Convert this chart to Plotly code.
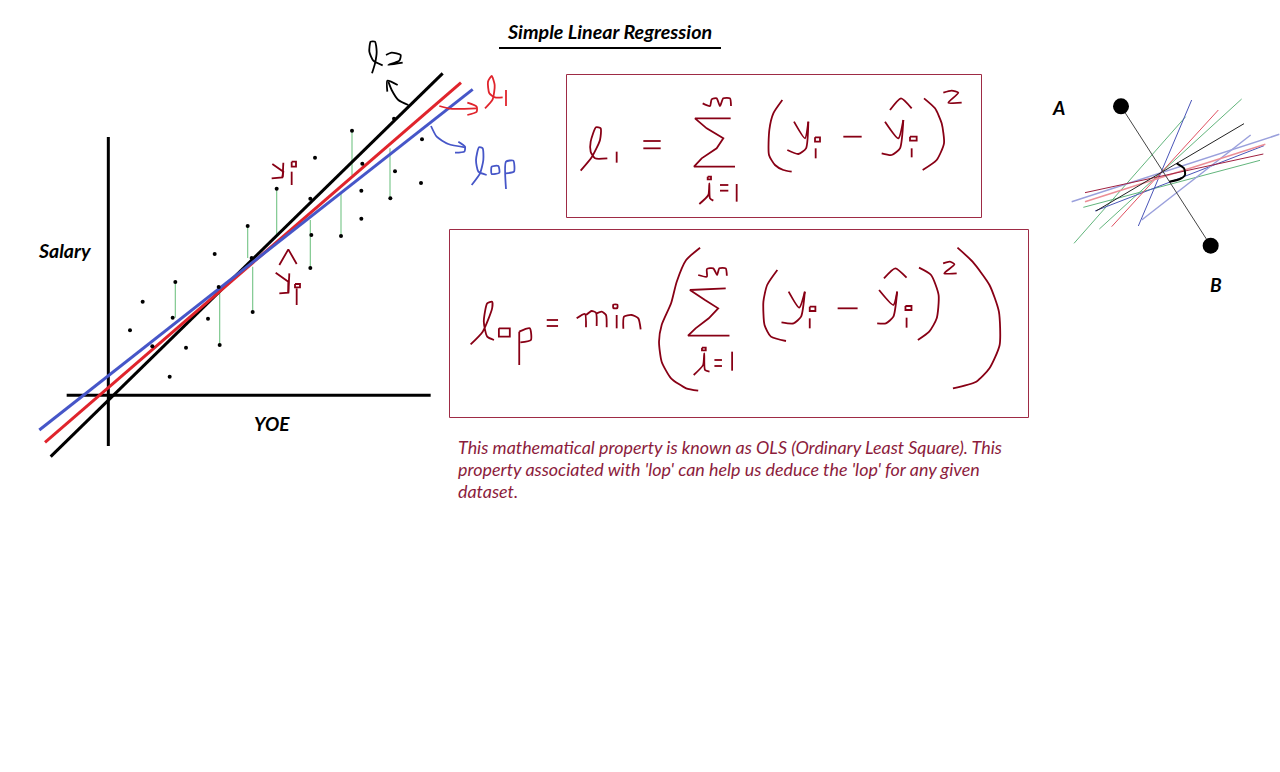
import plotly.graph_objects as go

CROP_LEFT = (30, 40)
CROP_EQ1 = (560, 70)
CROP_EQ2 = (445, 225)
CROP_MIN = (460, 290)
CROP_RIGHT = (1040, 85)
EQ2_X_SCALE = 0.3768

scatter_points = [(300,871),(338,785),(436,726),(428,833),(367,919),(468,923),(419,1010),(534,836),(554,642),
                  (566,741),(569,915),(653,558),(665,654),(668,816),(740,446),(841,476),(855,353),(844,585),
                  (841,684),(933,588),(966,272),(997,371),(994,452),(994,536),(1081,475),(1095,394),(1176,298),
                  (1173,429),(1092,236)]
residuals = [[(436,726),(436,833)],[(569,741),(569,915)],[(653,558),(653,654)],[(668,680),(668,816)],
             [(740,446),(740,590)],[(841,540),(841,684)],[(933,460),(933,588)],[(966,272),(966,405)],
             [(1080,325),(1080,475)]]
axes_lines = [[(235,291),(235,1218)],[(110,1066),(1202,1066)]]
line_l2 = [[(62,1250),(1238,100)]]
line_l1 = [[(45,1207),(1293,128)]]
line_lop = [[(28,1170),(1328,148)]]

label_l2 = [[(1026,100),(1035,70),(1040,35),(1035,5),(1022,5),(1018,35),(1030,62),(1058,76)],
            [(1068,45),(1085,38),(1112,45),(1108,62),(1075,75),(1118,68)],
            [(1135,195),(1105,180),(1085,150),(1075,125)],
            [(1072,155),(1072,122),(1103,135)]]
label_l1 = [[(1365,205),(1388,178),(1394,135),(1385,108),(1374,125),(1378,160),(1395,172),(1418,172)],
            [(1428,150),(1428,198)],
            [(1228,198),(1260,206),(1340,205)],
            [(1312,188),(1340,200),(1340,215),(1312,225)]]
label_lop = [[(1203,258),(1220,290),(1255,312),(1305,322)],
             [(1285,305),(1305,320),(1303,335),(1275,338)],
             [(1325,435),(1350,400),(1360,360),(1358,325),(1347,322),(1338,360),(1345,395),(1370,405)],
             [(1385,380),(1405,378),(1408,398),(1385,402),(1385,380)],
             [(1428,447),(1428,365),(1450,362),(1452,395),(1428,400)]]
label_yi = [[(727,372),(760,395),(757,412),(725,415)],[(760,368),(758,412)],[(785,435),(785,395)],
            [(785,365),(798,365),(798,380),(785,380),(785,365)],
            [(748,675),(775,628),(800,672)],
            [(737,698),(775,725),(775,758),(748,760)],[(778,700),(775,758)],[(800,795),(800,745)],
            [(795,732),(810,732),(810,742),(795,742),(795,732)]]

eq1_curves = [[(62,302),(95,262),(120,210),(122,175),(108,172),(92,215),(92,245),(105,265),(142,265)],
              [(428,100),(450,108),(455,88),(470,85),(480,108),(490,85),(510,85),(513,108)],
              [(418,402),(445,375),(448,340),(450,385),(460,392)],
              [(667,90),(640,130),(628,180),(627,255),(645,285),(670,300),(695,305)],
              [(702,155),(735,205),(745,155)],[(745,155),(738,235),(715,252),(682,240)],
              [(990,120),(1023,85),(1055,115)],
              [(975,155),(1015,205),(1030,150)],[(1030,150),(1020,235),(995,255),(965,250)],
              [(1092,85),(1125,115),(1145,160),(1152,220),(1130,270),(1088,300)],
              [(1150,68),(1175,62),(1195,68),(1165,98),(1205,98)]]
eq1_straight = [[(170,245),(170,278)],[(250,213),(302,213)],[(250,235),(302,235)],
                [(512,145),(405,145),(440,175),(490,205),(470,235),(425,265),(402,290),(525,290)],
                [(443,320),(453,320),(453,328),(443,328),(443,320)],
                [(480,345),(505,345)],[(480,362),(505,362)],[(530,342),(530,395)],
                [(765,202),(780,202),(780,215),(765,215),(765,202)],[(767,235),(767,265)],
                [(850,200),(905,200)],
                [(1050,200),(1070,200),(1070,212),(1050,212),(1050,200)],[(1055,235),(1055,262)]]

eq2_curves = [[(68,358),(100,320),(125,250),(125,230),(112,235),(103,290),(112,335),(130,345)],
              [(197,320),(225,310),(228,345),(200,352)],
              [(677,68),(640,105),(615,170),(600,235),(575,300),(568,350),(575,410),(600,460),(640,490),(672,497)],
              [(672,150),(695,155),(695,132),(712,130),(722,150),(728,130),(745,130),(748,152)],
              [(660,450),(685,420),(688,385),(690,435),(702,440)],
              [(882,135),(855,180),(845,230),(848,300),(865,335),(905,348)],
              [(912,200),(940,248),(955,200)],[(955,200),(945,275),(925,295),(893,292)],
              [(1165,160),(1195,130),(1225,158)],
              [(1152,195),(1190,240),(1200,200)],[(1200,200),(1190,275),(1170,295),(1147,295)],
              [(1258,128),(1290,150),(1310,210),(1305,280),(1285,320),(1255,345)],
              [(1322,115),(1340,110),(1352,118),(1325,145),(1358,145)],
              [(1360,68),(1400,110),(1445,180),(1470,260),(1472,360),(1445,430),(1410,470),(1348,490)]]
eq2_straight = [[(143,310),(172,310),(172,335),(143,335),(143,310)],[(197,420),(197,320)],
                [(270,285),(300,285)],[(270,303),(300,303)],
                [(745,190),(650,195),(690,225),(725,250),(700,280),(665,310),(645,332),(755,332)],
                [(682,368),(692,368),(692,376),(682,376),(682,368)],
                [(715,405),(735,405)],[(715,423),(735,423)],[(762,380),(762,437)],
                [(968,245),(983,245),(983,258),(968,258),(968,245)],[(968,280),(968,310)],
                [(1042,250),(1095,250)],
                [(1222,243),(1238,243),(1238,255),(1222,255),(1222,243)],[(1225,278),(1225,308)]]
word_min = [[(350,85),(375,72),(378,112)],
            [(378,75),(395,63),(408,68),(410,108)],
            [(410,70),(425,65),(438,75),(440,112)],
            [(460,44),(472,44),(472,54),(460,54),(460,44)],
            [(470,75),(470,115)],
            [(490,116),(492,80),(515,75),(535,85),(542,118)]]

box_eq1 = [[(566.5,74.5),(981.5,74.5),(981.5,217.5),(566.5,217.5),(566.5,74.5)]]
box_eq2 = [[(449.5,229.5),(1028.5,229.5),(1028.5,417.5),(449.5,417.5),(449.5,229.5)]]
title_rule = [[(499,48),(721,48)]]

right_green = [[(102,475),(437,95)],[(178,432),(605,42)],[(130,367),(660,226)]]
right_blue = [[(295,423),(455,45)],[(165,378),(672,182)]]
right_pale_blue = [[(305,405),(632,150)],[(95,350),(718,148)]]
right_red = [[(215,425),(535,75)]]
right_pale_red = [[(135,350),(676,178)]]
right_dark_red = [[(135,323),(670,207)]]
right_black = [[(168,378),(612,116)]]
right_ab = [[(243,64),(512,482)]]
right_bracket = [[(410,235),(432,250),(435,270),(420,282),(388,290)]]
right_nodes = [(243,64),(512,482)]

title_text = "Simple Linear Regression"
paragraph_lines = ["This mathematical property is known as OLS (Ordinary Least Square). This",
                   "property associated with 'lop' can help us deduce the 'lop' for any given",
                   "dataset."]

INK = "#880015"
FONT = "Lato"


def to_px(crop, pts, sx=1 / 3):
    return [(crop[0] + x * sx, crop[1] + y / 3) for x, y in pts]


fig = go.Figure()


def strokes(groups, color, width, crop=None, shape="linear", sx=1 / 3):
    xs, ys = [], []
    for stroke in groups:
        pts = to_px(crop, stroke, sx) if crop else stroke
        xs += [p[0] for p in pts] + [None]
        ys += [p[1] for p in pts] + [None]
    fig.add_trace(go.Scatter(x=xs, y=ys, mode="lines",
                             line=dict(color=color, width=width, shape=shape, smoothing=0.6),
                             hoverinfo="skip", showlegend=False))


def dots(points, crop, color, size):
    pts = to_px(crop, points)
    fig.add_trace(go.Scatter(x=[p[0] for p in pts], y=[p[1] for p in pts], mode="markers",
                             marker=dict(color=color, size=size), hoverinfo="skip", showlegend=False))


strokes(residuals, "#7fc98f", 1.2, CROP_LEFT)
strokes(axes_lines, "#000000", 3, CROP_LEFT)
strokes(line_l2, "#000000", 3, CROP_LEFT)
strokes(line_l1, "#e0242c", 3, CROP_LEFT)
strokes(line_lop, "#4656c8", 3, CROP_LEFT)
dots(scatter_points, CROP_LEFT, "#000000", 4)
strokes(label_l2, "#000000", 1.8, CROP_LEFT, "spline")
strokes(label_l1, "#e0242c", 1.8, CROP_LEFT, "spline")
strokes(label_lop, "#4656c8", 1.8, CROP_LEFT, "spline")
strokes(label_yi, INK, 1.8, CROP_LEFT)
strokes(eq1_curves, INK, 1.8, CROP_EQ1, "spline")
strokes(eq1_straight, INK, 1.8, CROP_EQ1)
strokes(eq2_curves, INK, 1.8, CROP_EQ2, "spline", EQ2_X_SCALE)
strokes(eq2_straight, INK, 1.8, CROP_EQ2, "linear", EQ2_X_SCALE)
strokes(word_min, INK, 1.8, CROP_MIN, "spline")
strokes(box_eq1, "#9e2b45", 1)
strokes(box_eq2, "#9e2b45", 1)
strokes(title_rule, "#000000", 2)
strokes(right_green, "#62b57c", 1, CROP_RIGHT)
strokes(right_blue, "#4a55b8", 1, CROP_RIGHT)
strokes(right_pale_blue, "#9aa0dc", 1.5, CROP_RIGHT)
strokes(right_red, "#e05060", 1, CROP_RIGHT)
strokes(right_pale_red, "#ec8e96", 1.5, CROP_RIGHT)
strokes(right_dark_red, "#a02040", 1, CROP_RIGHT)
strokes(right_black, "#222222", 1, CROP_RIGHT)
strokes(right_ab, "#444444", 1, CROP_RIGHT)
strokes(right_bracket, "#000000", 2, CROP_RIGHT, "spline")
dots(right_nodes, CROP_RIGHT, "#000000", 16)


def label(x, y, text, size=18, color="#000000", bold=True):
    body = f"<i>{text}</i>"
    if bold:
        body = f"<b>{body}</b>"
    fig.add_annotation(x=x, y=y, text=body, showarrow=False, xanchor="left", yanchor="middle",
                       font=dict(family=FONT, size=size, color=color))


label(505, 31, title_text, 19.7)
label(36, 250, "Salary", 19.5)
label(252, 423, "YOE", 19)
label(1050, 107, "A", 19)
label(1208, 284, "B", 19)
for y_pos, line in zip((447, 469, 491), paragraph_lines):
    label(456, y_pos, line, 17.9, "#8c1c3c", bold=False)

fig.update_layout(width=1280, height=772, autosize=False, margin=dict(l=0, r=0, t=0, b=0),
                  paper_bgcolor="white", plot_bgcolor="white",
                  xaxis=dict(range=[0, 1280], visible=False),
                  yaxis=dict(range=[772, 0], visible=False))
fig.write_html("out.html", config={"displayModeBar": False}, post_script="document.body.style.margin='0';")
